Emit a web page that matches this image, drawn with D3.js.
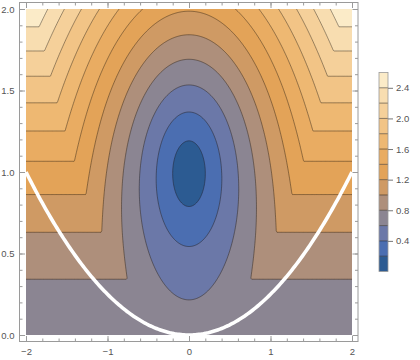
<!DOCTYPE html>
<html>
<head>
<meta charset="utf-8">
<script src="https://cdn.jsdelivr.net/npm/d3@7"></script>
<style>
  body { margin: 0; background: #fff; }
  svg { display: block; }
  text { font-family: "Liberation Sans", Arial, sans-serif; }
</style>
</head>
<body>
<svg id="chart" width="420" height="360"></svg>
<script>
// ---- data ----
const xDomain = [-2, 2];
const yDomain = [0, 2];
const source = [0, 1];                 // minimum of the plotted field
const bandEdges = [0, 0.2, 0.4, 0.6, 0.8, 1.0, 1.2, 1.4, 1.6, 1.8, 2.0, 2.2, 2.4, 2.6];
const contourLevels = [0.2, 0.4, 0.6, 0.8, 1.0, 1.2, 1.4, 1.6, 1.8, 2.0, 2.2, 2.4];
const bandColors = ["#2c5b92", "#4b6eb1", "#6b78a8", "#8b8592", "#ae8f7b", "#cf9a64",
                    "#e3a358", "#e9ac62", "#eeb872", "#f2c486", "#f5d09a", "#f8ddb0", "#fbebc8"];
const xTicks = [-2, -1, 0, 1, 2];
const xMinorTicks = d3.range(-2, 2.0001, 0.2);
const yTicks = [0, 0.5, 1, 1.5, 2];
const yMinorTicks = d3.range(0, 2.0001, 0.1);
const barTicks = [0.4, 0.8, 1.2, 1.6, 2.0, 2.4];
const boundaryX = d3.range(-2, 2.0001, 0.02);   // white curve y = x^2/4

// The plotted function: first-arrival time from `source` in a medium whose
// slowness is sqrt(y)  (direct parabolic rays, or the path via the floor y = 0).
function field(x, y) {
  const x0 = source[0], y0 = source[1];
  const dx = x - x0;
  const ys = Math.sign(y) * Math.pow(Math.abs(y), 1.5);
  const viaFloor = (2 / 3) * Math.pow(y0, 1.5) + (2 / 3) * ys;
  const disc = 4 * y0 * y - dx * dx;
  if (disc < 0) return viaFloor;
  const u = 4 * (y + y0) - 4 * Math.sqrt(disc);
  const tau = Math.sqrt(Math.max(u, 0));
  const direct = tau * (y + y0) / 2 - tau * tau * tau / 24;
  return Math.min(direct, viaFloor);
}

// ---- layout ----
const svg = d3.select("#chart");
const X = d3.scaleLinear().domain(xDomain).range([26, 352]);
const Y = d3.scaleLinear().domain(yDomain).range([335, 9]);
const frame = { left: 19.5, right: 358, top: 2.5, bottom: 341.5 };

// grid (extends a little beyond the plot range, clipped afterwards)
const step = 0.01;
const gx0 = -2.1, gy0 = -0.1;
const nx = Math.round(4.2 / step) + 1;
const ny = Math.round(2.2 / step) + 1;
const values = new Float64Array(nx * ny);
for (let j = 0; j < ny; j++) {
  for (let i = 0; i < nx; i++) {
    values[j * nx + i] = field(gx0 + i * step, gy0 + j * step);
  }
}
const proj = d3.geoTransform({
  point: function (cx, cy) {
    this.stream.point(X(gx0 + (cx - 0.5) * step), Y(gy0 + (cy - 0.5) * step));
  }
});
const path = d3.geoPath(proj);

svg.append("clipPath").attr("id", "plotclip")
  .append("rect")
  .attr("x", X(xDomain[0])).attr("y", Y(yDomain[1]))
  .attr("width", X(xDomain[1]) - X(xDomain[0]))
  .attr("height", Y(yDomain[0]) - Y(yDomain[1]));

const plot = svg.append("g").attr("clip-path", "url(#plotclip)");

const fillContours = d3.contours().size([nx, ny]).thresholds(bandEdges.slice(0, -1))(values);
plot.append("g").selectAll("path")
  .data(fillContours)
  .join("path")
  .attr("d", path)
  .attr("fill", (d, i) => bandColors[i])
  .attr("stroke", (d, i) => bandColors[i])
  .attr("stroke-width", 0.3);

const lineContours = d3.contours().size([nx, ny]).thresholds(contourLevels)(values);
plot.append("g").selectAll("path")
  .data(lineContours)
  .join("path")
  .attr("d", path)
  .attr("fill", "none")
  .attr("stroke", "rgba(20,15,10,0.55)")
  .attr("stroke-width", 0.75);

// white boundary curve
plot.append("path")
  .datum(boundaryX)
  .attr("d", d3.line().x(d => X(d)).y(d => Y(d * d / 4)).curve(d3.curveBasis))
  .attr("fill", "none")
  .attr("stroke", "#fff")
  .attr("stroke-width", 3.6);

// ---- frame and ticks ----
const axisColor = "#9a9a9a";
const labelColor = "#555";
const fmtX = d => (d < 0 ? "\u2212" + Math.abs(d) : String(d));
const fmtY = d3.format(".1f");

function styleAxis(g) {
  g.select(".domain").remove();
  g.selectAll("line").attr("stroke", axisColor);
  g.selectAll("text").attr("fill", labelColor).attr("font-size", "9.5px");
}

svg.append("g").attr("transform", `translate(0,${frame.bottom})`)
  .call(d3.axisBottom(X).tickValues(xMinorTicks).tickSize(-3).tickFormat("")).call(styleAxis);
svg.append("g").attr("transform", `translate(0,${frame.bottom})`)
  .call(d3.axisBottom(X).tickValues(xTicks).tickSize(-5.5).tickPadding(7).tickFormat(fmtX)).call(styleAxis);
svg.append("g").attr("transform", `translate(0,${frame.top})`)
  .call(d3.axisTop(X).tickValues(xMinorTicks).tickSize(-3).tickFormat("")).call(styleAxis);
svg.append("g").attr("transform", `translate(0,${frame.top})`)
  .call(d3.axisTop(X).tickValues(xTicks).tickSize(-5.5).tickFormat("")).call(styleAxis);

svg.append("g").attr("transform", `translate(${frame.left},0)`)
  .call(d3.axisLeft(Y).tickValues(yMinorTicks).tickSize(-3).tickFormat("")).call(styleAxis);
svg.append("g").attr("transform", `translate(${frame.left},0)`)
  .call(d3.axisLeft(Y).tickValues(yTicks).tickSize(-5.5).tickPadding(5).tickFormat(fmtY)).call(styleAxis);
svg.append("g").attr("transform", `translate(${frame.right},0)`)
  .call(d3.axisRight(Y).tickValues(yMinorTicks).tickSize(-3).tickFormat("")).call(styleAxis);
svg.append("g").attr("transform", `translate(${frame.right},0)`)
  .call(d3.axisRight(Y).tickValues(yTicks).tickSize(-5.5).tickFormat("")).call(styleAxis);

svg.append("rect")
  .attr("x", frame.left).attr("y", frame.top)
  .attr("width", frame.right - frame.left).attr("height", frame.bottom - frame.top)
  .attr("fill", "none").attr("stroke", axisColor).attr("stroke-width", 1);

// ---- colour bar legend ----
const barX = 379, barW = 9;
const B = d3.scaleLinear().domain([bandEdges[0], bandEdges[bandEdges.length - 1]]).range([271.5, 72.5]);
const legend = svg.append("g");
legend.selectAll("rect.band")
  .data(bandColors)
  .join("rect")
  .attr("class", "band")
  .attr("x", barX)
  .attr("y", (d, i) => B(bandEdges[i + 1]))
  .attr("width", barW)
  .attr("height", (d, i) => B(bandEdges[i]) - B(bandEdges[i + 1]))
  .attr("fill", d => d);
legend.selectAll("line.sep")
  .data(contourLevels)
  .join("line")
  .attr("class", "sep")
  .attr("x1", barX).attr("x2", barX + barW)
  .attr("y1", d => B(d)).attr("y2", d => B(d))
  .attr("stroke", "rgba(20,15,10,0.6)").attr("stroke-width", 0.8);
legend.append("rect")
  .attr("x", barX).attr("y", B.range()[1])
  .attr("width", barW).attr("height", B.range()[0] - B.range()[1])
  .attr("fill", "none").attr("stroke", axisColor).attr("stroke-width", 0.8);
legend.append("g").attr("transform", `translate(${barX + barW},0)`)
  .call(d3.axisRight(B).tickValues(barTicks).tickSize(5).tickPadding(3).tickFormat(d3.format(".1f")))
  .call(styleAxis)
  .call(g => g.selectAll("line").attr("stroke", "#777"));
</script>
</body>
</html>
